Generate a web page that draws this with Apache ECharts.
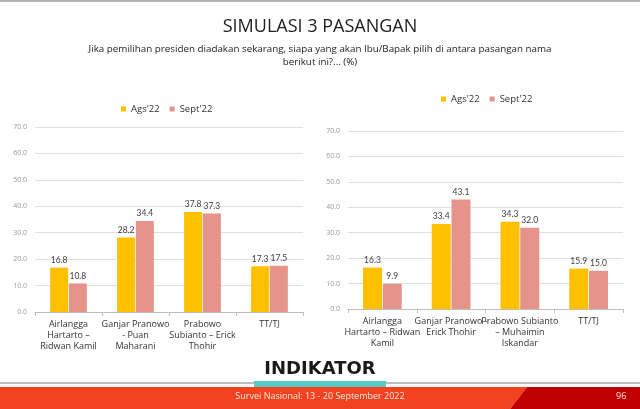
<!DOCTYPE html>
<html>
<head>
<meta charset="utf-8">
<script src="https://cdn.jsdelivr.net/npm/echarts@6/dist/echarts.min.js"></script>
<style>
html,body{margin:0;padding:0;background:#fff;}
#c{width:640px;height:409px;}
</style>
</head>
<body>
<div id="c"></div>
<script>
const seriesNames = ["Ags'22", "Sept'22"];
const leftCategories = ["Airlangga\nHartarto –\nRidwan Kamil", "Ganjar Pranowo\n- Puan\nMaharani", "Prabowo\nSubianto – Erick\nThohir", "TT/TJ"];
const leftAgs = [16.8, 28.2, 37.8, 17.3];
const leftSept = [10.8, 34.4, 37.3, 17.5];
const rightCategories = ["Airlangga\nHartarto – Ridwan\nKamil", "Ganjar Pranowo -\nErick Thohir", "Prabowo Subianto\n– Muhaimin\nIskandar", "TT/TJ"];
const rightAgs = [16.3, 33.4, 34.3, 15.9];
const rightSept = [9.9, 43.1, 32.0, 15.0];
const titleText = "SIMULASI 3 PASANGAN";
const subtitleText = "Jika pemilihan presiden diadakan sekarang, siapa yang akan Ibu/Bapak pilih di antara pasangan nama\nberikut ini?... (%)";
const footerText = "Survei Nasional: 13 - 20 September 2022";
const pageNumber = "96";

const FONT = "'Open Sans', Lato, sans-serif";
const YELLOW = '#FFC000';
const SALMON = '#E6948B';

function xAxisCfg(idx, cats) {
  return {
    type: 'category', gridIndex: idx, data: cats,
    axisLine: { lineStyle: { color: '#BFBFBF' } },
    axisTick: { show: true, length: 4, lineStyle: { color: '#BFBFBF' } },
    axisLabel: { color: '#333', fontSize: 9, fontFamily: FONT, lineHeight: 11, margin: 7, interval: 0 }
  };
}
function yAxisCfg(idx) {
  return {
    type: 'value', gridIndex: idx, min: 0, max: 70, interval: 10,
    axisLine: { show: false }, axisTick: { show: false },
    splitLine: { lineStyle: { color: '#E0E0E0' } },
    axisLabel: { color: '#999', fontSize: 7, fontFamily: FONT, margin: 8, formatter: v => v.toFixed(1) }
  };
}
function barSeries(name, data, idx, color, w) {
  return {
    type: 'bar', name: name, data: data, xAxisIndex: idx, yAxisIndex: idx,
    barWidth: w, barGap: '4%',
    itemStyle: { color: color },
    label: { show: true, position: 'top', distance: 3, color: '#404040', fontSize: 8.5, fontFamily: "Lato, 'Open Sans', sans-serif", formatter: p => p.value.toFixed(1) }
  };
}

const chart = echarts.init(document.getElementById('c'), null, { renderer: 'canvas' });
chart.setOption({
  backgroundColor: '#fff',
  animation: false,
  title: [
    { text: titleText, left: 'center', top: 13, textStyle: { fontFamily: FONT, fontSize: 18, fontWeight: 'normal', color: '#222' } }
  ],
  legend: [
    { data: seriesNames.map(n => ({ name: n })), left: 116, top: 99, itemWidth: 5, itemHeight: 5, itemGap: 10, icon: 'rect',
      textStyle: { fontFamily: FONT, fontSize: 9.5, color: '#333' } },
    { data: seriesNames.map(n => ({ name: n })), left: 436, top: 89, itemWidth: 5, itemHeight: 5, itemGap: 10, icon: 'rect',
      textStyle: { fontFamily: FONT, fontSize: 9.5, color: '#333' } }
  ],
  grid: [
    { left: 35, right: 337, top: 127, bottom: 97 },
    { left: 348, right: 17, top: 131, bottom: 100 }
  ],
  xAxis: [xAxisCfg(0, leftCategories), xAxisCfg(1, rightCategories)],
  yAxis: [yAxisCfg(0), yAxisCfg(1)],
  series: [
    barSeries(seriesNames[0], leftAgs, 0, YELLOW, 18),
    barSeries(seriesNames[1], leftSept, 0, SALMON, 18),
    barSeries(seriesNames[0], rightAgs, 1, YELLOW, 19),
    barSeries(seriesNames[1], rightSept, 1, SALMON, 19)
  ],
  graphic: [
    { type: 'text', x: 320, y: 43, style: { text: subtitleText, textAlign: 'center', fontFamily: FONT, fontSize: 9.8, lineHeight: 13, fill: '#222' } },
    { type: 'rect', shape: { x: 0, y: 0, width: 640, height: 2 }, style: { fill: '#B5B5B5' } },
    { type: 'rect', shape: { x: 0, y: 382, width: 640, height: 2 }, style: { fill: '#BDBDBD' } },
    { type: 'polygon', shape: { points: [[0, 387], [527, 387], [510, 409], [0, 409]] }, style: { fill: '#F2421F' } },
    { type: 'polygon', shape: { points: [[527, 387], [640, 387], [640, 409], [510, 409]] }, style: { fill: '#C00000' } },
    { type: 'rect', shape: { x: 254, y: 381, width: 132, height: 6 }, style: { fill: '#5BC8C8' } },
    { type: 'text', x: 320, y: 360, style: { text: 'INDIKATOR', textAlign: 'center', fontFamily: "'DejaVu Sans', sans-serif", fontWeight: 'bold', fontSize: 18, fill: '#1A1A1A' } },
    { type: 'text', x: 320, y: 392, style: { text: footerText, textAlign: 'center', fontFamily: FONT, fontSize: 9, fill: '#FFE9E0' } },
    { type: 'text', x: 616, y: 392, style: { text: pageNumber, fontFamily: FONT, fontSize: 9, fill: '#FFE9E0' } }
  ]
});
</script>
</body>
</html>
